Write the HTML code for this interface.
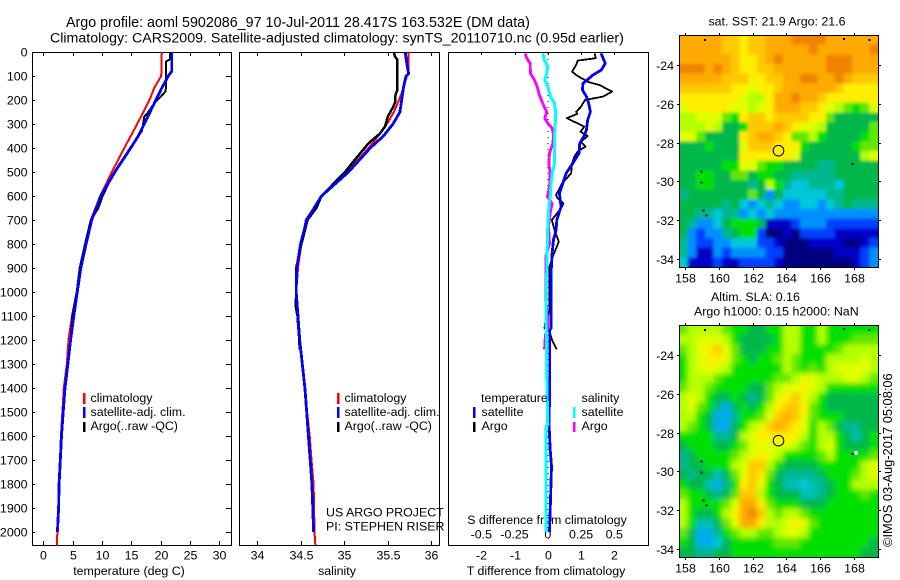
<!DOCTYPE html>
<html>
<head>
<meta charset="utf-8">
<title>Argo profile</title>
<style>
html,body{margin:0;padding:0;background:#fff;}
svg{display:block;}
text{font-family:"Liberation Sans",sans-serif;font-size:12.4px;fill:#000;}
</style>
</head>
<body>
<svg id="chart" xmlns="http://www.w3.org/2000/svg" width="900" height="580" viewBox="0 0 900 580">
<defs>
<filter id="soften-sst" x="-5%" y="-5%" width="110%" height="110%">
<feGaussianBlur in="SourceGraphic" stdDeviation="1.7" result="b"/>
<feMerge><feMergeNode in="SourceGraphic"/><feMergeNode in="b"/></feMerge>
</filter>
<filter id="soften-sla" x="-5%" y="-5%" width="110%" height="110%">
<feGaussianBlur in="SourceGraphic" stdDeviation="2.7" result="b"/>
<feMerge><feMergeNode in="SourceGraphic"/><feMergeNode in="b"/></feMerge>
</filter>
<clipPath id="clip-sst"><rect x="679" y="35" width="199" height="232"/></clipPath>
<clipPath id="clip-sla"><rect x="679" y="325" width="199" height="232"/></clipPath>
</defs>
<rect x="0" y="0" width="900" height="580" fill="#fff"/>
<text x="66" y="27" style="font-size:14.3px">Argo profile: aoml 5902086_97 10-Jul-2011 28.417S 163.532E (DM data)</text>
<text x="50" y="42.5" style="font-size:14.2px">Climatology: CARS2009. Satellite-adjusted climatology: synTS_20110710.nc (0.95d earlier)</text>
<text x="129" y="575" text-anchor="middle">temperature (deg C)</text>
<text x="337" y="575" text-anchor="middle">salinity</text>
<text x="546" y="575" text-anchor="middle">T difference from climatology</text>
<text x="547" y="524" text-anchor="middle">S difference from climatology</text>
<text x="777" y="25.5" text-anchor="middle">sat. SST: 21.9 Argo: 21.6</text>
<text x="711" y="301">Altim. SLA: 0.16</text>
<text x="694" y="315.5">Argo h1000: 0.15 h2000: NaN</text>
<text transform="translate(892,547) rotate(-90)" style="font-size:12.85px">©IMOS 03-Aug-2017 05:08:06</text>
<g id="marks"></g>
<g>
<rect x="83" y="393" width="2.5" height="11" fill="#f00"/>
<rect x="83" y="407" width="2.5" height="11" fill="#00f"/>
<rect x="83" y="422" width="2.5" height="10" fill="#000"/>
<text x="90.5" y="402">climatology</text>
<text x="90.5" y="416">satellite-adj. clim.</text>
<text x="90.5" y="430">Argo(..raw -QC)</text>
</g>
<g>
<rect x="337" y="393" width="2.5" height="11" fill="#f00"/>
<rect x="337" y="407" width="2.5" height="11" fill="#00f"/>
<rect x="337" y="422" width="2.5" height="10" fill="#000"/>
<text x="344.5" y="402">climatology</text>
<text x="344.5" y="416">satellite-adj. clim.</text>
<text x="344.5" y="430">Argo(..raw -QC)</text>
</g>
<g>
<text x="481" y="402">temperature</text>
<rect x="473" y="407" width="2.5" height="11" fill="#00f"/>
<rect x="473" y="422" width="2.5" height="10" fill="#000"/>
<text x="481.5" y="416">satellite</text>
<text x="481.5" y="430">Argo</text>
<text x="581.5" y="402">salinity</text>
<rect x="573" y="407" width="2.5" height="11" fill="#0ff"/>
<rect x="573" y="422" width="2.5" height="10" fill="#f0f"/>
<text x="581.5" y="416">satellite</text>
<text x="581.5" y="430">Argo</text>
</g>
<text x="326" y="516.5">US ARGO PROJECT</text>
<text x="326" y="530.5">PI: STEPHEN RISER</text>
</svg>
<script>
// ---- tick labels ----
const depthTicks = [0,100,200,300,400,500,600,700,800,900,1000,1100,1200,1300,1400,1500,1600,1700,1800,1900,2000];
const tempTicks = [0,5,10,15,20,25,30];
const salTicks = [34,34.5,35,35.5,36];
const tDiffTicks = [-2,-1,0,1,2];
const sDiffTicks = [-0.5,-0.25,0,0.25,0.5];
const lonTicks = [158,160,162,164,166,168];
const latTicks = [24,26,28,30,32,34];

// ---- temperature profiles ----
const climTempDepth = [0,100,150,200,300,400,500,600,700,800,900,1000,1100,1200,1300,1400,1500,1600,1700,1800,1900,2000,2056];
const climTemp = [20.2,20.1,18.9,18.1,16.0,13.8,11.7,9.7,8.1,7.2,6.25,5.7,4.9,4.3,4.0,3.5,3.25,3.0,2.85,2.6,2.55,2.4,2.3];
const satTempDepth = [0,80,100,150,200,250,300,350,400,500,600,700,800,900,1000,1100,1200,1300,1400,1500,1600,1700,1800,1900,2000];
const satTemp = [21.9,21.9,21.3,20.2,19.2,18.2,17.2,16.2,14.9,12.2,9.8,8.25,7.3,6.4,5.8,5.2,4.65,4.2,3.7,3.4,3.1,2.9,2.7,2.6,2.4];
const argoTempDepth = [0,30,40,100,150,165,190,210,250,270,310,330,350,400,500,600,650,700,800,900,1000,1100,1200,1240];
const argoTemp = [21.65,21.6,20.9,20.9,20.9,20.8,19.9,19.0,17.9,17.2,16.95,16.8,16.2,14.8,12.1,10.1,9.4,8.1,7.1,6.2,5.7,4.95,4.65,4.55];

// ---- salinity profiles ----
const climSalDepth = [0,90,100,150,200,250,300,350,400,500,600,700,800,900,1000,1100,1200,1300,1400,1500,1600,1700,1800,1900,2000,2056];
const climSal = [35.74,35.74,35.72,35.68,35.63,35.57,35.49,35.39,35.28,35.03,34.74,34.56,34.51,34.47,34.45,34.47,34.49,34.52,34.55,34.575,34.605,34.625,34.65,34.655,34.66,34.67];
const satSalDepth = [0,50,90,100,150,200,250,300,350,400,500,600,700,800,900,1000,1100,1200,1300,1400,1500,1600,1700,1800,1900,2000];
const satSal = [35.70,35.72,35.74,35.71,35.68,35.66,35.64,35.56,35.45,35.30,35.05,34.74,34.57,34.50,34.455,34.45,34.47,34.49,34.52,34.55,34.57,34.59,34.61,34.63,34.64,34.65];
const argoSalDepth = [0,20,30,100,160,175,210,230,270,310,340,380,450,500,600,650,700,800,900,1000,1060,1100,1200,1240];
const argoSal = [35.57,35.585,35.61,35.61,35.61,35.59,35.585,35.56,35.50,35.47,35.41,35.28,35.12,35.01,34.74,34.68,34.58,34.51,34.45,34.45,34.445,34.465,34.485,34.49];

// ---- difference profiles ----
const satTDiffDepth = [6,47,75,96,131,158,186,214,249,283,325,353,381,422,464,506,547,589,644,700,742,783,839,922,1075,1151,1158,1352,1554,1651,1727,1922,2000];
const satTDiff = [1.60,1.73,1.61,1.36,1.06,1.04,1.16,1.23,1.28,1.20,1.16,1.08,0.96,0.94,0.75,0.55,0.45,0.35,0.40,0.27,0.25,0.17,0.13,0.10,0.10,0.10,0.06,0.06,0.04,0.07,0.11,0.07,0.05];
const argoTDiffDepth = [6,26,36,54,82,96,124,138,165,186,200,228,249,258,276,311,332,350,374,394,415,436,464,506,547,596,610,631,651,700,749,790,853,894,1075,1100,1117,1151,1165,1200,1239];
const argoTDiff = [1.41,1.44,0.90,0.85,0.73,0.85,1.20,1.56,1.93,1.66,1.12,1.00,0.85,0.88,0.57,1.10,0.98,1.20,1.00,1.13,0.90,0.80,0.73,0.70,0.43,0.25,0.30,0.47,0.40,0.12,0.22,0.33,0.15,0.05,0.05,0.0,-0.07,-0.10,0.05,0.13,0.27];
const satSDiffDepth = [6,33,61,89,117,144,186,214,256,353,464,506,547,603,644,728,839,1075,1352,1554,1560,2000];
const satSDiff = [-0.038,-0.025,0,-0.008,-0.023,0,0.02,0.05,0.06,0.05,0.05,0.033,0.025,0.018,0.008,0,-0.005,-0.013,-0.008,0,-0.013,-0.013];
const argoSDiffDepth = [6,26,47,89,117,144,179,214,249,276,297,318,346,381,422,464,506,561,603,631,672,728,797,853,908,1033,1117,1151,1179,1239];
const argoSDiff = [-0.171,-0.158,-0.133,-0.13,-0.10,-0.08,-0.063,-0.038,-0.008,-0.023,0,0.033,0.043,0.038,0.013,0.008,0.018,0.013,-0.003,0.033,0.018,0.005,0.013,-0.015,-0.015,-0.015,0,0,-0.018,-0.025];

// ---- map data: colour-scale levels, one row per half degree north to south ----
const sstLevels = [
[13,13,13,13,13,12,12,11,12,12,13,13,13,14,14,14,14,13,13,13,13,13,13],
[13,13,13,13,13,12,12,11,12,12,13,13,13,13,13,14,13,13,13,13,13,13,14],
[13,13,13,13,13,13,12,11,11,12,13,14,13,13,13,13,13,14,14,14,13,13,13],
[14,14,14,13,14,13,12,11,11,12,12,13,13,13,13,13,13,14,14,14,13,13,13],
[13,13,13,13,13,12,12,12,11,11,12,12,13,13,14,14,13,13,14,13,12,12,12],
[12,12,12,12,12,12,11,11,10,11,11,12,13,13,13,13,13,13,12,11,11,11,11],
[11,11,11,11,11,11,11,10,9,9,11,13,13,14,13,13,12,11,11,11,11,11,11],
[10,11,11,11,11,11,10,10,9,10,11,13,13,13,12,12,11,10,9,8,7,8,10],
[9,9,10,10,10,8,7,11,12,12,11,12,12,12,12,11,11,8,6,6,6,6,6],
[9,9,9,10,9,6,6,7,12,12,12,13,12,11,10,10,9,6,6,6,6,6,8],
[10,10,8,6,6,6,6,11,12,13,13,12,11,8,8,9,7,6,6,6,6,7,8],
[6,6,6,7,6,6,6,10,12,12,12,11,11,11,7,6,6,6,6,6,7,8,8],
[6,6,6,6,6,6,6,11,11,11,11,11,11,10,6,6,6,6,6,6,6,9,10],
[6,6,6,6,6,7,7,10,10,8,7,7,6,6,6,6,5,5,6,6,6,6,6],
[6,6,7,7,6,6,8,8,6,7,7,6,6,5,5,5,5,5,6,6,6,6,6],
[6,6,7,7,6,6,6,6,5,6,9,7,5,4,4,5,5,5,4,6,6,6,6],
[5,6,6,6,6,6,6,6,8,6,3,6,4,4,4,4,4,5,5,6,6,6,6],
[6,6,6,6,6,5,6,4,3,4,5,4,3,3,4,4,3,4,5,6,5,5,5],
[6,6,5,5,4,5,5,3,4,3,4,3,3,3,3,3,3,3,3,3,3,3,3],
[6,5,3,3,4,6,7,7,7,6,1,1,1,2,3,3,3,2,2,2,2,2,2],
[6,3,2,3,3,5,6,7,7,2,0,0,1,0,2,2,2,2,1,1,1,1,1],
[5,3,2,2,3,3,4,4,4,2,2,1,0,0,0,1,1,1,1,0,0,1,2],
[5,3,1,1,3,2,3,3,3,3,2,2,0,0,0,0,0,0,1,1,1,2,3],
[4,1,1,1,2,1,1,2,2,2,2,1,0,0,0,0,0,0,0,0,1,2,3]
];
const slaLevels = [
[8,9,9,9,9,8,7,7,6,6,7,7,9,9,7,7,9,7,7,7,7,7,7],
[9,9,10,10,10,9,7,6,6,6,6,7,9,9,7,7,9,7,7,7,8,8,8],
[8,9,10,11,12,10,8,6,6,6,7,7,9,9,7,7,7,7,8,9,9,9,9],
[7,9,10,11,11,10,8,7,6,7,7,8,9,8,7,7,7,9,9,9,9,10,9],
[7,9,10,10,10,9,7,7,7,7,7,7,9,8,7,8,7,9,10,10,10,10,9],
[7,9,9,9,8,7,7,7,7,7,7,8,8,9,10,10,9,9,9,10,10,9,8],
[8,9,9,8,7,7,7,7,6,6,8,9,10,10,11,10,9,7,7,7,7,7,7],
[9,10,9,7,6,6,7,6,5,6,8,10,11,12,10,9,7,6,6,6,6,6,6],
[9,10,8,7,5,3.5,6,7,6,7,9,11,12,12,11,8,7,6,6,6,6,6,6],
[9,9,7,6,3.5,3.5,5,7,7,8,10,12,13,12,10,8,7,7,7,6,6,6,6],
[9,8,7,6,3.5,3.5,6,7,9,10,12,13,12,11,10,7,9,8,6,5,5,6,6],
[7,7,7,7,5,5,6,9,10,11,11,11,11,11,9,7,9,9,7,6,4.5,6,7],
[6,7,7,7,6,6,7,8,10,10,10,10,10,9,8,7,9,10,7,6,6,6,7],
[5,6,7,7,7,7,8,9,10,11,10,9,7,7,7,7,8,9,7,7,7,7,8],
[5,6,6,7,7,7,9,10,12,12,9,7,6,6,6,6,7,7,7,7,7,9,10],
[6,5,6,6,4.5,6,8,10,12,11,8,6,5,5,5,5,6,7,7,7,8,9,10],
[7,6,6,4.5,3.5,5,7,11,12,10,7,6,4.5,4.5,4,4.5,5,6,7,7,9,9,9],
[8,7,7,6,5,6,8,12,12,9,7,6,6,6,4.5,4.5,5,6,7,7,7,8,7],
[9,7,7,7,7,8,10,13,13,11,8,7,7,7,6,6,6,7,7,7,7,7,7],
[9,7,6,6,7,9,11,13,14,12,9,8,9,9,8,7,7,7,7,7,7,7,7],
[9,7,4.5,4.5,6,8,10,13,13,11,9,9,10,11,10,8,7,7,7,7,7,7,7],
[8,6,3.5,3.5,5,7,8,9,9,8,8,9,10,10,9,7,7,7,7,7,7,7,7],
[7,6,3.5,3.5,4,6,7,7,7,7,7,8,8,8,7,7,7,7,7,7,7,7,6],
[6,6,5,5,6,6,7,7,7,7,7,7,7,7,7,7,7,7,7,7,7,6,6]
];
const landLon = [159.2,167.4,168.9,159.0,159.0,159.1,159.3,167.9];
const landLat = [22.7,22.65,22.7,29.5,30.05,31.5,31.75,29.1];
const floatLon = [163.532];
const floatLat = [28.417];

// ---- colour scale ----
const colourStops = ['#000080','#0000c8','#0040ff','#0090ff','#00c8d8','#00b890','#00b848','#00e000','#60e800','#b4ff00','#e0ff00','#ffee00','#ffc800','#ffaa00','#f08400'];

const NS = 'http://www.w3.org/2000/svg';
const root = document.getElementById('marks');

function svgEl(tag, attrs, parent) {
  const el = document.createElementNS(NS, tag);
  for (const k in attrs) el.setAttribute(k, attrs[k]);
  (parent || root).appendChild(el);
  return el;
}
function linear(d0, d1, r0, r1) {
  return v => r0 + (v - d0) * (r1 - r0) / (d1 - d0);
}

const yDepth = linear(0, 2000, 52, 532);
const xTemp = linear(0, 30, 43.3, 219.3);
const xSal = linear(34, 36, 257, 431.3);
const xTDiff = linear(-2, 2, 481.3, 614.3);
const xSDiff = linear(-0.5, 0.5, 481.3, 614.3);
const xLon = linear(158, 168, 684.7, 854.3);
const yLatTop = linear(24, 34, 65, 259);
const yLatBottom = linear(24, 34, 355, 549);

function drawLine(x1, y1, x2, y2, name) {
  const el = svgEl('line', {x1: x1, y1: y1, x2: x2, y2: y2, stroke: '#000', 'stroke-width': 1, 'shape-rendering': 'crispEdges'});
  
  
  return el;
}
function drawText(x, y, str, anchor, name) {
  const el = svgEl('text', {x: x, y: y, 'text-anchor': anchor});
  el.textContent = str;
  
  
  return el;
}
function drawFrame(x0, y0, x1, y1, name) {
  const el = svgEl('rect', {x: x0 + 0.5, y: y0 + 0.5, width: x1 - x0, height: y1 - y0, fill: 'none', stroke: '#000', 'stroke-width': 1, 'shape-rendering': 'crispEdges'});
  
  
  return el;
}
function drawProfile(depths, values, xScale, colour, width, name) {
  const pts = depths.map((d, i) => xScale(values[i]).toFixed(1) + ',' + yDepth(d).toFixed(1)).join(' ');
  const el = svgEl('polyline', {points: pts, fill: 'none', stroke: colour, 'stroke-width': width, 'stroke-linejoin': 'round', 'shape-rendering': 'crispEdges'});
  
  
  return el;
}
function hexToRgb(h) {
  return [parseInt(h.slice(1,3),16), parseInt(h.slice(3,5),16), parseInt(h.slice(5,7),16)];
}
function levelColour(v) {
  const t = Math.max(0, Math.min(colourStops.length - 1, v));
  const i = Math.min(colourStops.length - 2, Math.floor(t));
  const f = t - i;
  const a = hexToRgb(colourStops[i]);
  const b = hexToRgb(colourStops[i + 1]);
  return 'rgb(' + a.map((c, k) => Math.round(c + (b[k] - c) * f)).join(',') + ')';
}

// ---- profile panels ----
function drawProfilePanelAxes(x0, x1, hasSideTicks, panelName) {
  drawFrame(x0, 52, x1, 545, panelName + '-frame');
  if (hasSideTicks) {
    depthTicks.forEach(d => {
      const y = Math.round(yDepth(d)) + 0.5;
      if (d > 0) {
        drawLine(x0, y, x0 + 3, y, 'depth-tick-left');
        drawLine(x1 - 5, y, x1, y, 'depth-tick-right');
      }
      drawText(27.5, y + 4, String(d), 'end', 'depth-tick-label');
    });
  }
}
drawProfilePanelAxes(32, 231, true, 'temperature-panel');
drawProfilePanelAxes(239, 439, false, 'salinity-panel');
drawProfilePanelAxes(448, 648, false, 'difference-panel');

tempTicks.forEach(t => {
  const x = Math.round(xTemp(t)) + 0.5;
  drawLine(x, 52, x, 56, 'temperature-tick-top');
  drawLine(x, 541, x, 545, 'temperature-tick-bottom');
  drawText(x, 559.5, String(t), 'middle', 'temperature-tick-label');
});
salTicks.forEach(s => {
  const x = Math.round(xSal(s)) + 0.5;
  drawLine(x, 52, x, 56, 'salinity-tick-top');
  drawLine(x, 541, x, 545, 'salinity-tick-bottom');
  drawText(x, 559.5, String(s), 'middle', 'salinity-tick-label');
});
tDiffTicks.forEach(t => {
  const x = Math.round(xTDiff(t)) + 0.5;
  drawLine(x, 52, x, 55, 'difference-tick-top');
  drawText(x, 559.5, String(t), 'middle', 't-difference-tick-label');
});
sDiffTicks.forEach(s => {
  const x = xSDiff(s);
  drawText(x, 538.5, String(s), 'middle', 's-difference-tick-label');
});

// zero line in difference panel
const zeroLine = svgEl('line', {x1: xTDiff(0), y1: 53, x2: xTDiff(0), y2: 533, stroke: '#000', 'stroke-width': 1, 'stroke-dasharray': '1 5', 'shape-rendering': 'crispEdges'});



drawProfile(climTempDepth, climTemp, xTemp, '#f00', 2, 'temperature-climatology-line');
drawProfile(argoTempDepth, argoTemp, xTemp, '#000', 2, 'temperature-argo-line');
drawProfile(satTempDepth, satTemp, xTemp, '#00f', 2.8, 'temperature-satellite-line');

drawProfile(climSalDepth, climSal, xSal, '#f00', 2, 'salinity-climatology-line');
drawProfile(argoSalDepth, argoSal, xSal, '#000', 2.5, 'salinity-argo-line');
drawProfile(satSalDepth, satSal, xSal, '#00f', 2.8, 'salinity-satellite-line');

drawProfile(argoTDiffDepth, argoTDiff, xTDiff, '#000', 1.8, 'argo-temperature-difference-line');
drawProfile(satTDiffDepth, satTDiff, xTDiff, '#00f', 2.8, 'satellite-temperature-difference-line');
drawProfile(argoSDiffDepth, argoSDiff, xSDiff, '#f0f', 2.8, 'argo-salinity-difference-line');
drawProfile(satSDiffDepth, satSDiff, xSDiff, '#0ff', 3, 'satellite-salinity-difference-line');

// ---- maps ----
function drawMap(levels, yLat, top, bottom, mapName, filterId, clipId, withMissing) {
  const left = 679, right = 878;
  const rows = levels.length, cols = levels[0].length;
  const lon0 = 157.66, lat0 = 22.45;
  const lonStep = (right - left) / cols / 16.96;
  const latStep = (bottom - top) / rows / 19.4;
  const clipGroup = svgEl('g', {'clip-path': 'url(#' + clipId + ')'});
  
  
  const cellGroup = svgEl('g', {filter: 'url(#' + filterId + ')'}, clipGroup);
  
  
  levels.forEach((row, r) => {
    row.forEach((v, c) => {
      const x = xLon(lon0 + c * lonStep);
      const y = yLat(lat0 + r * latStep);
      const w = lonStep * 16.96 + 0.6;
      const h = latStep * 19.4 + 0.6;
      const cell = svgEl('rect', {x: x.toFixed(2), y: y.toFixed(2), width: w.toFixed(2), height: h.toFixed(2), fill: levelColour(v), 'shape-rendering': 'crispEdges'}, cellGroup);
      
      
    });
  });
  landLon.forEach((lon, i) => {
    const mark = svgEl('rect', {x: (xLon(lon) - 1).toFixed(1), y: (yLat(landLat[i]) - 1).toFixed(1), width: 2, height: 2, fill: '#000', 'shape-rendering': 'crispEdges'});
    
    
  });
  if (withMissing) {
    const white = svgEl('rect', {x: xLon(168), y: yLat(28.95), width: 3, height: 4, fill: '#fff', 'shape-rendering': 'crispEdges'});
    
    
  }
  drawFrame(left, top, right, bottom, mapName + '-frame');
  lonTicks.forEach(lon => {
    const x = Math.round(xLon(lon)) + 0.5;
    drawLine(x, top - 2, x, top, mapName + '-lon-tick-top');
    drawLine(x, bottom, x, bottom + 3, mapName + '-lon-tick-bottom');
    drawText(x, bottom + 15.5, String(lon), 'middle', mapName + '-lon-label');
  });
  latTicks.forEach(lat => {
    const y = Math.round(yLat(lat)) + 0.5;
    drawLine(left - 2, y, left, y, mapName + '-lat-tick-left');
    drawLine(right, y, right + 3, y, mapName + '-lat-tick-right');
    drawText(674, y + 4.5, '-' + lat, 'end', mapName + '-lat-label');
  });
  floatLon.forEach((lon, i) => {
    const circle = svgEl('circle', {cx: xLon(lon).toFixed(1), cy: yLat(floatLat[i]).toFixed(1), r: 5.3, fill: 'none', stroke: '#000', 'stroke-width': 1});
    
    
  });
}
drawMap(sstLevels, yLatTop, 35, 267, 'sst-map', 'soften-sst', 'clip-sst', false);
drawMap(slaLevels, yLatBottom, 325, 557, 'sla-map', 'soften-sla', 'clip-sla', true);
</script>
</body>
</html>
